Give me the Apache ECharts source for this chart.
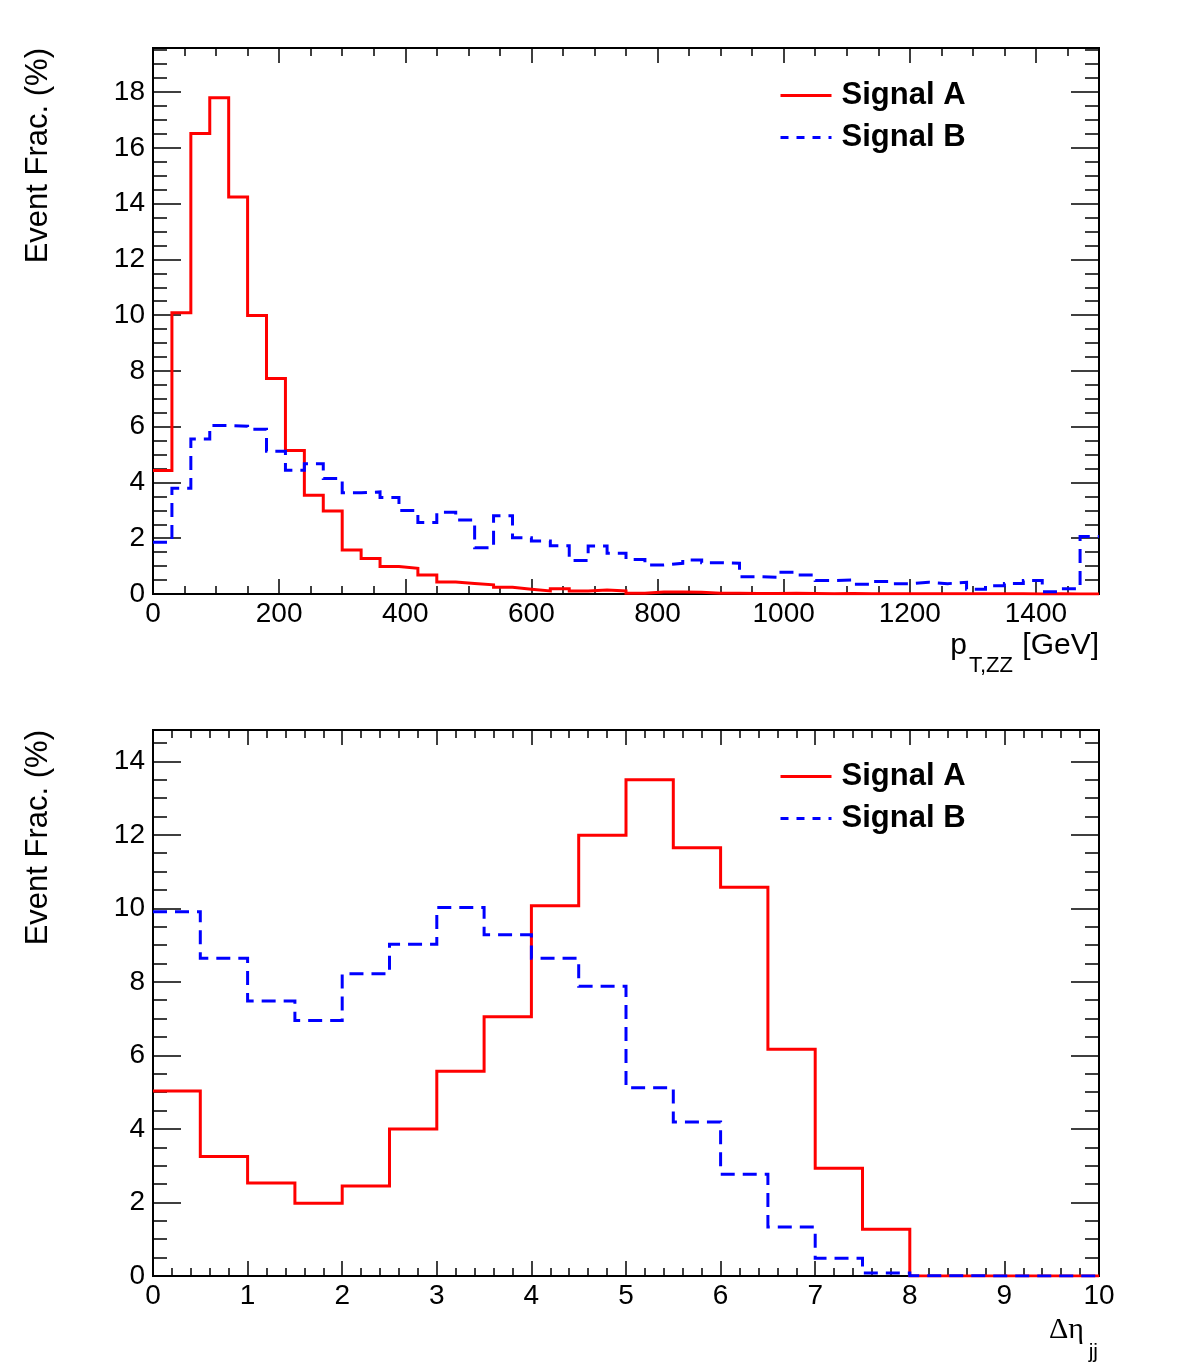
<!DOCTYPE html>
<html>
<head>
<meta charset="utf-8">
<script src="https://cdn.jsdelivr.net/npm/echarts@6/dist/echarts.min.js"></script>
<style>
  html, body { margin: 0; padding: 0; background: #fff; }
  #chart { width: 1182px; height: 1365px; }
</style>
</head>
<body>
<div id="chart"></div>
<script>
// p_T,ZZ histogram, 30 GeV bins from 0 to 1500
const PT_BIN = 30;
const ptSignalA = [
  4.43, 10.09, 16.51, 17.80, 14.24, 9.99, 7.73, 5.15, 3.54, 2.98,
  1.58, 1.27, 0.99, 0.92, 0.68, 0.43, 0.38, 0.33, 0.24, 0.17,
  0.11, 0.19, 0.11, 0.14, 0.11, 0.03, 0.07, 0.07, 0.06, 0.03,
  0.03, 0.02, 0.02, 0.03, 0.02, 0.01, 0.02, 0.01, 0.01, 0.01,
  0.01, 0.01, 0.01, 0.01, 0.01, 0.01, 0.00, 0.01, 0.00, 0.00,
];
const ptSignalB = [
  1.86, 3.79, 5.56, 6.04, 6.02, 5.91, 5.12, 4.44, 4.67, 4.14,
  3.63, 3.66, 3.46, 2.99, 2.56, 2.93, 2.65, 1.66, 2.81, 2.02,
  1.90, 1.73, 1.20, 1.72, 1.46, 1.24, 1.04, 1.10, 1.22, 1.12,
  1.10, 0.62, 0.60, 0.78, 0.68, 0.48, 0.50, 0.35, 0.45, 0.37,
  0.42, 0.37, 0.42, 0.17, 0.30, 0.38, 0.48, 0.08, 0.19, 2.06,
];

// delta eta_jj histogram, 0.5 bins from 0 to 10
const DETA_BIN = 0.5;
const detaSignalA = [
  5.03, 3.25, 2.53, 1.98, 2.45, 4.00, 5.57, 7.05, 10.07, 11.99,
  13.50, 11.65, 10.57, 6.17, 2.93, 1.27, 0.00, 0.00, 0.00, 0.00,
];
const detaSignalB = [
  9.91, 8.64, 7.48, 6.95, 8.22, 9.02, 10.02, 9.28, 8.64, 7.88,
  5.12, 4.19, 2.77, 1.33, 0.48, 0.08, 0.01, 0.00, 0.00, 0.00,
];

const legendNames = ['Signal A', 'Signal B'];

const FONT = '"Liberation Sans", Helvetica, Arial, sans-serif';
const RED = '#ff0000';
const BLUE = '#0000ff';
const DASH = [14, 8];

// bin contents -> step points (left edge of every bin + closing right edge)
const toSteps = (values, width) => {
  const pts = values.map((v, i) => [i * width, v]);
  pts.push([values.length * width, values[values.length - 1]]);
  return pts;
};

const isMultiple = (v, step) => Math.abs(v / step - Math.round(v / step)) < 1e-6;

/**
 * ROOT-like ticks: major + minor ticks on both sides of one dimension,
 * only the first axis carries labels
 */
const tickAxes = (dim, gridIndex, range, major, minor, majorLen, minorLen, labelMargin) => {
  const sides = dim === 'x' ? ['bottom', 'top'] : ['left', 'right'];
  const axes = [];
  sides.forEach((position, sideIdx) => {
    [[major, majorLen], [minor, minorLen]].forEach(([interval, len], kind) => {
      const labelled = sideIdx === 0 && kind === 0;
      axes.push({
        type: 'value',
        gridIndex,
        position,
        min: range[0],
        max: range[1],
        interval,
        axisLine: { show: false, onZero: false },
        splitLine: { show: false },
        axisTick: { show: true, inside: true, length: len, lineStyle: { color: '#000', width: 1.5 } },
        minorTick: { show: false },
        axisLabel: {
          show: labelled,
          margin: labelMargin,
          color: '#000',
          fontSize: 28,
          fontFamily: FONT,
          formatter: (v) => (isMultiple(v, major) ? String(Math.round(v * 100) / 100) : ''),
        },
      });
    });
  });
  return axes;
};

const lineSeries = (name, values, width, color, type, xi, yi) => ({
  name,
  type: 'line',
  step: 'end',
  xAxisIndex: xi,
  yAxisIndex: yi,
  symbol: 'none',
  data: toSteps(values, width),
  lineStyle: { color, width: 3, type, cap: 'butt', join: 'miter' },
  itemStyle: { color },
  z: name === 'Signal A' ? 3 : 4,
  animation: false,
});

const legendBox = (top) => ({
  orient: 'vertical',
  left: 779,
  top,
  padding: 0,
  itemWidth: 51,
  itemHeight: 30,
  itemGap: 11,
  data: [
    { name: legendNames[0], lineStyle: { color: RED, width: 3, type: 'solid' } },
    { name: legendNames[1], lineStyle: { color: BLUE, width: 3, type: [8, 8] } },
  ],
  itemStyle: { opacity: 0 },
  textStyle: { fontSize: 31, fontWeight: 'bold', color: '#000', fontFamily: FONT, lineHeight: 30, padding: [0, 0, 0, 5] },
  selectedMode: false,
});

const titleText = (text, x, y, size, align, extra) => ({
  type: 'text',
  x,
  y,
  ...extra,
  style: { text, fill: '#000', font: `${size}px ${FONT}`, align, verticalAlign: 'middle' },
});

const chart = echarts.init(document.getElementById('chart'), null, { renderer: 'canvas' });

const gridStyle = { show: true, borderColor: '#000', borderWidth: 2, backgroundColor: 'transparent', containLabel: false, outerBoundsMode: 'none' };

chart.setOption({
  backgroundColor: '#fff',
  animation: false,
  grid: [
    { left: 153, top: 48, width: 946, height: 546, ...gridStyle },
    { left: 153, top: 730, width: 946, height: 546, ...gridStyle },
  ],
  xAxis: [
    ...tickAxes('x', 0, [0, 1500], 200, 50, 15, 8, 6),
    ...tickAxes('x', 1, [0, 10], 1, 0.2, 15, 8, 6),
  ],
  yAxis: [
    ...tickAxes('y', 0, [0, 19.58], 2, 0.5, 28, 14, 8),
    ...tickAxes('y', 1, [0, 14.85], 2, 0.5, 28, 14, 8),
  ],
  legend: [legendBox(80), legendBox(761)],
  series: [
    lineSeries('Signal A', ptSignalA, PT_BIN, RED, 'solid', 0, 0),
    lineSeries('Signal B', ptSignalB, PT_BIN, BLUE, DASH, 0, 0),
    lineSeries('Signal A', detaSignalA, DETA_BIN, RED, 'solid', 4, 4),
    lineSeries('Signal B', detaSignalB, DETA_BIN, BLUE, DASH, 4, 4),
  ],
  graphic: [
    titleText('Event Frac. (%)', 38, 48, 31, 'right', { rotation: Math.PI / 2 }),
    titleText('Event Frac. (%)', 38, 730, 31, 'right', { rotation: Math.PI / 2 }),
    titleText('p', 967, 646, 30, 'right'),
    titleText('T,ZZ', 1013, 666, 22, 'right'),
    titleText('[GeV]', 1099, 646, 30, 'right'),
    {
      type: 'text',
      x: 1084,
      y: 1330,
      style: { text: 'Δη', fill: '#000', font: '30px "Liberation Serif", "DejaVu Serif", serif', align: 'right', verticalAlign: 'middle' },
    },
    titleText('jj', 1098, 1352, 21, 'right'),
  ],
});
</script>
</body>
</html>
